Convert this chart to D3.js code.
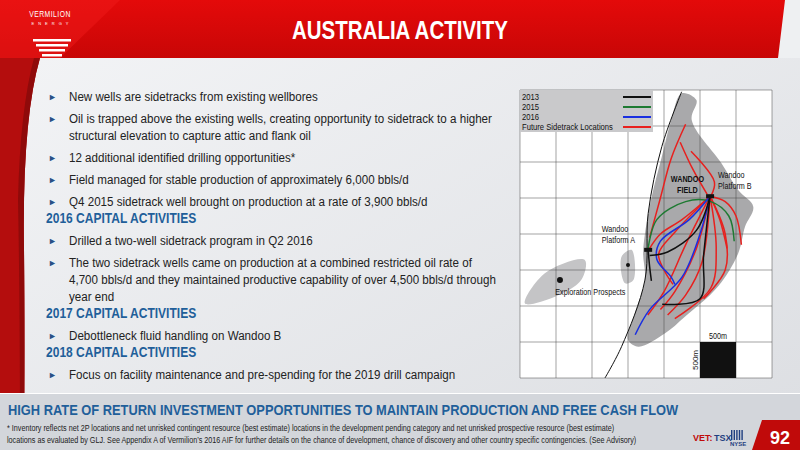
<!DOCTYPE html>
<html>
<head>
<meta charset="UTF-8">
<title>Australia Activity</title>
<script src="https://d3js.org/d3.v7.min.js"></script>
<style>
  body { margin: 0; }
  svg { display: block; font-family: "Liberation Sans", Arial, sans-serif; }
</style>
</head>
<body>
<div id="chart"></div>
<script>
var width = 800, height = 450;

// legend
var seriesNames = ["2013", "2015", "2016", "Future Sidetrack Locations"];
var seriesColors = ["#111111", "#1e7a32", "#1a2fe0", "#e8201e"];

// platforms, in grid units (1 unit = 500m)
var platforms = [["Wandoo Platform B", 5.28, 2.95], ["Wandoo Platform A", 3.56, 4.44]];
var prospects = [[1.11, 5.28], [3.0, 4.86]];

// field outline and islands (grid units)
var fieldOutline = [[4.49,0.09],[4.9,0.28],[4.77,0.83],[5.6,2.04],[6.06,2.78],[6.48,3.24],[6.25,3.8],[6.06,4.54],[5.5,5.46],[4.58,6.3],[4.03,6.76],[3.29,7.13],[3.0,6.94],[3.19,6.2],[3.47,5.28],[3.42,4.54],[3.47,4.0],[3.66,2.96],[3.94,1.85],[4.2,0.83]];
var islandWest = [[0.14,5.93],[0.69,5.09],[1.8,4.72],[1.7,5.28],[0.97,5.74]];
var islandMid = [[2.82,4.63],[3.1,4.44],[3.15,5.28],[2.92,5.37]];
var coastline = [[4.49,0.05],[3.94,1.57],[3.56,3.43],[3.47,5.28],[2.82,7.13],[2.36,8.0]];

// well paths per series (grid units)
var wells2013 = [
  [[5.28,2.95],[4.9,3.9],[4.1,4.5],[3.6,4.6]],
  [[5.28,2.95],[5.1,4.6],[5.0,5.8],[3.95,5.95]],
  [[3.56,4.44],[3.6,4.9],[3.65,5.3]]
];
var wells2015 = [
  [[3.56,4.4],[3.8,3.6],[4.6,3.1],[5.3,3.1],[5.8,3.5],[5.95,4.2]]
];
var wells2016 = [
  [[5.28,2.95],[4.7,3.6],[3.9,4.2],[3.8,4.7],[4.2,5.2],[4.3,5.4]],
  [[5.28,2.95],[5.0,4.0],[4.5,5.2],[3.6,6.1],[3.2,6.8]]
];
var wellsFuture = [
  [[4.6,0.95],[4.2,1.9],[3.9,3.0],[3.6,4.1]],
  [[4.45,1.45],[4.8,2.2],[5.2,2.9]],
  [[4.75,1.7],[5.4,2.55],[5.3,2.95]],
  [[5.28,2.95],[5.7,3.1],[6.0,3.5],[6.15,4.3]],
  [[5.28,2.95],[4.5,3.6],[3.9,4.0],[3.6,4.4]],
  [[5.28,2.95],[4.3,3.95],[3.85,4.55],[4.0,5.0],[4.25,5.4]],
  [[5.28,2.95],[4.6,4.3],[4.0,5.6],[3.55,6.25]],
  [[5.28,2.95],[4.9,4.4],[4.3,5.6],[3.9,6.1]],
  [[5.28,2.95],[5.05,4.8],[4.6,5.7],[4.1,6.25]],
  [[5.28,2.95],[5.45,4.4],[5.3,5.5],[4.3,6.35]],
  [[5.28,2.95],[5.7,4.0],[5.7,5.0],[5.1,5.8]],
  [[5.28,2.95],[5.55,3.6],[5.75,4.4]]
];
var wellSeries = [wells2013, wells2015, wells2016, wellsFuture];

// slide text
var bullets1 = [
  ["New wells are sidetracks from existing wellbores"],
  ["Oil is trapped above the existing wells, creating opportunity to sidetrack to a higher", "structural elevation to capture attic and flank oil"],
  ["12 additional identified drilling opportunities*"],
  ["Field managed for stable production of approximately 6,000 bbls/d"],
  ["Q4 2015 sidetrack well brought on production at a rate of 3,900 bbls/d"]
];
var bullets2016 = [
  ["Drilled a two-well sidetrack program in Q2 2016"],
  ["The two sidetrack wells came on production at a combined restricted oil rate of", "4,700 bbls/d and they maintained productive capability of over 4,500 bbls/d through", "year end"]
];
var bullets2017 = [["Debottleneck fluid handling on Wandoo B"]];
var bullets2018 = [["Focus on facility maintenance and pre-spending for the 2019 drill campaign"]];
var footnote = [
  "*  Inventory reflects net 2P locations and net unrisked contingent resource (best estimate) locations in the development pending category and net unrisked prospective resource (best estimate)",
  "locations as evaluated by GLJ. See Appendix A of Vermilion\u2019s 2016 AIF for further details on the chance of development, chance of discovery and other country specific contingencies. (See Advisory)"
];

var svg = d3.select("#chart").append("svg").attr("width", width).attr("height", height);
var defs = svg.append("defs");

// condensed text: scale horizontally around its anchor point
function ctext(parent, px, py, sx) {
  return parent.append("g").attr("transform", "translate(" + px + "," + py + ") scale(" + sx + ",1)")
    .append("text").attr("x", 0).attr("y", 0);
}

var bg = defs.append("linearGradient").attr("id", "bg").attr("x1", 0).attr("y1", 0).attr("x2", 1).attr("y2", 1);
bg.append("stop").attr("offset", 0).attr("stop-color", "#f4f5f7");
bg.append("stop").attr("offset", 1).attr("stop-color", "#dcdee2");
var hd = defs.append("linearGradient").attr("id", "hd").attr("x1", 0).attr("y1", 0).attr("x2", 0).attr("y2", 1);
hd.append("stop").attr("offset", 0).attr("stop-color", "#e40a0a");
hd.append("stop").attr("offset", 1).attr("stop-color", "#c80606");

svg.append("rect").attr("width", width).attr("height", height).attr("fill", "url(#bg)");

// left red edge
svg.append("path").attr("d", "M0,58 L40,58 Q22,120 24,250 Q25,340 24,450 L0,450 Z").attr("fill", "#b40d0d");
svg.append("path").attr("d", "M0,58 L40,58 Q22,120 24,250 Q25,340 24,450 L20,450 Q20,300 18,200 Q20,110 34,58 Z").attr("fill", "#8f0a0a");

// header band
svg.append("rect").attr("width", width).attr("height", 58).attr("fill", "url(#hd)");
svg.append("path").attr("d", "M0,0 L120,0 L60,58 L0,58 Z").attr("fill", "#ef1a1a").attr("opacity", 0.5);
svg.append("path").attr("d", "M785,0 L800,0 L800,58 L778,58 Q782,25 785,0 Z").attr("fill", "#eef0f2");
ctext(svg, 50, 17, 0.8).attr("text-anchor", "middle").attr("fill", "white")
  .attr("font-size", 8.5).attr("letter-spacing", 0.6).text("VERMILION");
svg.append("text").attr("x", 52).attr("y", 25).attr("text-anchor", "middle").attr("fill", "white")
  .attr("font-size", 4).attr("letter-spacing", 4).text("ENERGY");
svg.selectAll(".logo").data([39, 44, 49, 54]).enter().append("rect")
  .attr("x", function(d, i) { return 33 + i * 3; }).attr("y", function(d) { return d; })
  .attr("width", function(d, i) { return 38 - i * 6; }).attr("height", 2.5).attr("fill", "white");
ctext(svg, 400, 39, 0.82).attr("text-anchor", "middle").attr("fill", "white")
  .attr("font-size", 25).attr("font-weight", "bold").text("AUSTRALIA ACTIVITY");

// body text
var lineH = 17, y = 101;
var body = svg.append("g");
var sx = 0.86;
function heading(t) {
  ctext(body, 46, y, sx).attr("fill", "#1f5f9a").attr("font-weight", "bold").attr("font-size", 14).text(t);
  y += 22;
}
function bulletBlock(arr) {
  arr.forEach(function(lines) {
    body.append("text").attr("x", 48).attr("y", y - 1).attr("fill", "#2a4f86").attr("font-size", 9).text("\u25BA");
    lines.forEach(function(l, k) {
      ctext(body, 69, y + k * lineH, sx).attr("fill", "#222").attr("font-size", 13.5).text(l);
    });
    y += (lines.length - 1) * lineH + 22;
  });
}
bulletBlock(bullets1);
y -= 5; heading("2016 CAPITAL ACTIVITIES");
bulletBlock(bullets2016);
y -= 5; heading("2017 CAPITAL ACTIVITIES");
bulletBlock(bullets2017);
y -= 5; heading("2018 CAPITAL ACTIVITIES");
bulletBlock(bullets2018);

// bottom band
svg.append("rect").attr("x", 0).attr("y", 393).attr("width", width).attr("height", 57).attr("fill", "#d3d6db");
svg.append("rect").attr("x", 0).attr("y", 393).attr("width", width).attr("height", 1).attr("fill", "#fff");
ctext(svg, 8, 415, 0.83).attr("fill", "#1f5f9a").attr("font-weight", "bold")
  .attr("font-size", 15.5).text("HIGH RATE OF RETURN INVESTMENT OPPORTUNITIES TO MAINTAIN PRODUCTION AND FREE CASH FLOW");
footnote.forEach(function(d, i) {
  ctext(svg, 7, 431 + i * 12, 0.82).attr("font-size", 8.8).attr("fill", "#222").text(d);
});
svg.append("path").attr("d", "M752,450 L762,420 L800,420 L800,450 Z").attr("fill", "#c00a0a");
svg.append("text").attr("x", 780).attr("y", 444).attr("text-anchor", "middle").attr("fill", "white")
  .attr("font-size", 18).attr("font-weight", "bold").text("92");
svg.append("text").attr("x", 693).attr("y", 441).attr("fill", "#c00a0a").attr("font-size", 9).attr("font-weight", "bold").text("VET:");
svg.append("text").attr("x", 714).attr("y", 441).attr("fill", "#1f3f80").attr("font-size", 9).attr("font-weight", "bold").text("TSX");
svg.append("text").attr("x", 730).attr("y", 446).attr("fill", "#1f3f80").attr("font-size", 6).attr("font-weight", "bold").text("NYSE");
svg.selectAll(".ny").data([0, 1, 2, 3, 4]).enter().append("rect")
  .attr("x", function(d) { return 731 + d * 2.6; }).attr("y", 430).attr("width", 1.4).attr("height", 10).attr("fill", "#1f3f80");

// map
var map = { left: 520, top: 90, cols: 7, rows: 8 };
var cell = 36;
var x = d3.scaleLinear().domain([0, map.cols]).range([map.left, map.left + map.cols * cell]);
var yS = d3.scaleLinear().domain([0, map.rows]).range([map.top, map.top + map.rows * cell]);
var m = svg.append("g");
m.append("rect").attr("x", x(0)).attr("y", yS(0)).attr("width", x(7) - x(0)).attr("height", yS(8) - yS(0)).attr("fill", "white");

var area = d3.line().x(function(d) { return x(d[0]); }).y(function(d) { return yS(d[1]); }).curve(d3.curveCatmullRomClosed);
var curve = d3.line().x(function(d) { return x(d[0]); }).y(function(d) { return yS(d[1]); }).curve(d3.curveCatmullRom);

[fieldOutline, islandWest, islandMid].forEach(function(s, i) {
  m.append("path").attr("d", area(s)).attr("fill", i === 0 ? "#a9a9ab" : "#c4c4c6");
});

// grid
m.append("g").selectAll("line").data(d3.range(0, 8)).enter().append("line")
  .attr("x1", function(d) { return x(d); }).attr("x2", function(d) { return x(d); })
  .attr("y1", yS(0)).attr("y2", yS(8)).attr("stroke", "#444").attr("stroke-width", 0.5);
m.append("g").selectAll("line").data(d3.range(0, 9)).enter().append("line")
  .attr("y1", function(d) { return yS(d); }).attr("y2", function(d) { return yS(d); })
  .attr("x1", x(0)).attr("x2", x(7)).attr("stroke", "#444").attr("stroke-width", 0.5);

m.append("path").attr("d", curve(coastline)).attr("fill", "none").attr("stroke", "#111").attr("stroke-width", 1);

// wells: future first, then older on top
[3, 1, 2, 0].forEach(function(si) {
  m.append("g").selectAll("path").data(wellSeries[si]).enter().append("path")
    .attr("d", curve).attr("fill", "none").attr("stroke", seriesColors[si]).attr("stroke-width", 1.5);
});

// platforms
m.selectAll(".plat").data(platforms).enter().append("rect")
  .attr("x", function(d) { return x(d[1]) - 4; }).attr("y", function(d) { return yS(d[2]) - 2; })
  .attr("width", 8).attr("height", 4).attr("fill", "#111");
function mlabel(t, gx, gy, anchor, bold) {
  ctext(m, x(gx), yS(gy), 0.85).attr("text-anchor", anchor || "start").attr("font-size", 8.5)
    .attr("font-weight", bold ? "bold" : "normal").attr("fill", "#111").text(t);
}
mlabel("Wandoo", 5.5, 2.45); mlabel("Platform B", 5.5, 2.75);
mlabel("Wandoo", 2.27, 3.95); mlabel("Platform A", 2.27, 4.25);
mlabel("WANDOO", 4.65, 2.55, "middle", true); mlabel("FIELD", 4.65, 2.85, "middle", true);
m.selectAll(".pros").data(prospects).enter().append("circle")
  .attr("cx", function(d) { return x(d[0]); }).attr("cy", function(d) { return yS(d[1]); })
  .attr("r", function(d, i) { return i === 0 ? 3 : 2; }).attr("fill", "#111");
mlabel("Exploration Prospects", 0.98, 5.7);

// scale bar
m.append("rect").attr("x", x(5)).attr("y", yS(7)).attr("width", cell).attr("height", cell).attr("fill", "#111");
mlabel("500m", 5.5, 6.93, "middle");
m.append("text").attr("transform", "translate(" + (x(5) - 2) + "," + yS(7.5) + ") rotate(-90)")
  .attr("text-anchor", "middle").attr("font-size", 8).attr("fill", "#111").text("500m");

// legend
m.append("rect").attr("x", x(0)).attr("y", yS(0)).attr("width", 133).attr("height", 42).attr("fill", "#c9c9cb");
seriesNames.forEach(function(d, i) {
  var gy = yS(0) + 7 + i * 10;
  ctext(m, x(0) + 2, gy + 3, 0.85).attr("font-size", 9).attr("fill", "#111").text(d);
  m.append("line").attr("x1", x(0) + 103).attr("x2", x(0) + 131).attr("y1", gy).attr("y2", gy)
    .attr("stroke", seriesColors[i]).attr("stroke-width", 2);
});
</script>
</body>
</html>
